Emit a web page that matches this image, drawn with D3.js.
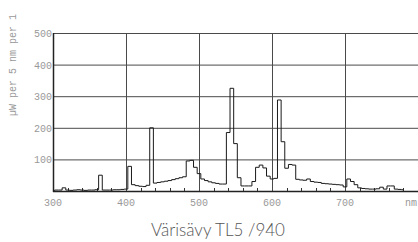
<!DOCTYPE html>
<html>
<head>
<meta charset="utf-8">
<script src="https://cdn.jsdelivr.net/npm/d3@7"></script>
<style>
  body { margin: 0; background: #fff; }
  svg { display: block; }
</style>
</head>
<body>
<script>
// spectrum in 5 nm bins, centre wavelengths 300..780
var wavelengths = d3.range(300, 785, 5);
var power = [
  2, 3, 3, 10, 3, 2, 3, 4, 3, 2,        // 300-345
  3, 3, 4, 50, 3, 3, 3, 4, 4, 5,        // 350-395
  6, 78, 20, 17, 15, 14, 18, 200, 25, 27, // 400-445
  29, 31, 33, 36, 39, 42, 45, 95, 97, 75, // 450-495
  55, 38, 33, 29, 26, 24, 22, 22, 185, 325, // 500-545
  150, 42, 16, 16, 16, 30, 75, 82, 73, 47, // 550-595
  38, 40, 288, 156, 72, 84, 82, 37, 35, 34, // 600-645
  38, 30, 28, 27, 24, 23, 22, 21, 20, 19, // 650-695
  13, 38, 30, 20, 10, 8, 7, 6, 6, 7,    // 700-745
  12, 6, 16, 16, 6, 5, 4                 // 750-780
];
var xTicks = [300, 400, 500, 600, 700];
var yTicks = [100, 200, 300, 400, 500];
var minorTicks = d3.range(320, 800, 20).filter(function (d) { return d % 100 != 0 });

var width = 418, height = 242;
var svg = d3.select('body').append('svg')
    .attr('width', width)
    .attr('height', height);

var x = d3.scaleLinear().domain([300, 800]).range([53, 418]);
var y = d3.scaleLinear().domain([0, 500]).range([191, 33]);

var grid = '#4a4a4a';

// grid
svg.selectAll('.hgrid')
    .data(yTicks)
    .enter().append('line')
    .attr('x1', x(300)).attr('x2', x(800))
    .attr('y1', function (d) { return y(d) + 0.5 })
    .attr('y2', function (d) { return y(d) + 0.5 })
    .attr('stroke', grid).attr('stroke-width', 1);

svg.selectAll('.vgrid')
    .data(xTicks.slice(1))
    .enter().append('line')
    .attr('x1', function (d) { return Math.round(x(d)) + 0.5 })
    .attr('x2', function (d) { return Math.round(x(d)) + 0.5 })
    .attr('y1', y(500)).attr('y2', y(0))
    .attr('stroke', grid).attr('stroke-width', 1);

// axes lines
svg.append('line')
    .attr('x1', x(300) + 0.5).attr('x2', x(300) + 0.5)
    .attr('y1', y(500)).attr('y2', y(0) + 1)
    .attr('stroke', '#222').attr('stroke-width', 1.5);
svg.append('line')
    .attr('x1', x(300)).attr('x2', x(800))
    .attr('y1', y(0) + 0.5).attr('y2', y(0) + 0.5)
    .attr('stroke', '#222').attr('stroke-width', 1.5);

// minor ticks
svg.selectAll('.minor')
    .data(minorTicks)
    .enter().append('line')
    .attr('x1', function (d) { return Math.round(x(d)) + 0.5 })
    .attr('x2', function (d) { return Math.round(x(d)) + 0.5 })
    .attr('y1', y(0) - 3).attr('y2', y(0))
    .attr('stroke', '#333').attr('stroke-width', 1);

// spectrum
var line = d3.line()
    .x(function (d, i) { return x(wavelengths[i]) })
    .y(function (d) { return y(d) })
    .curve(d3.curveStep);

svg.append('path')
    .datum(power)
    .attr('d', line)
    .attr('fill', 'none')
    .attr('stroke', '#1a1a1a')
    .attr('stroke-width', 1);

// tick labels
var mono = '"Liberation Mono", "DejaVu Sans Mono", monospace';
svg.selectAll('.ylab')
    .data(yTicks)
    .enter().append('text')
    .attr('x', 52)
    .attr('y', function (d) { return y(d) + 4 })
    .attr('text-anchor', 'end')
    .attr('font-family', mono)
    .attr('font-size', 10)
    .attr('fill', '#999')
    .text(function (d) { return d });

svg.selectAll('.xlab')
    .data(xTicks)
    .enter().append('text')
    .attr('x', function (d) { return x(d) })
    .attr('y', 206)
    .attr('text-anchor', 'middle')
    .attr('font-family', mono)
    .attr('font-size', 10)
    .attr('fill', '#999')
    .text(function (d) { return d });

svg.append('text')
    .attr('x', 417)
    .attr('y', 206)
    .attr('text-anchor', 'end')
    .attr('font-family', mono)
    .attr('font-size', 10)
    .attr('fill', '#999')
    .text('nm');

// y title
svg.append('text')
    .attr('transform', 'translate(16,65) rotate(-90)')
    .attr('text-anchor', 'middle')
    .attr('font-family', mono)
    .attr('font-size', 10)
    .attr('fill', '#999')
    .text('µW per 5 nm per 1');

// title
svg.append('text')
    .attr('x', 218)
    .attr('y', 236)
    .attr('text-anchor', 'middle')
    .attr('font-family', 'Lato, "Open Sans", sans-serif')
    .attr('font-weight', 300)
    .attr('font-size', 17)
    .attr('fill', '#555')
    .text('Värisävy TL5 /940');
</script>
</body>
</html>
